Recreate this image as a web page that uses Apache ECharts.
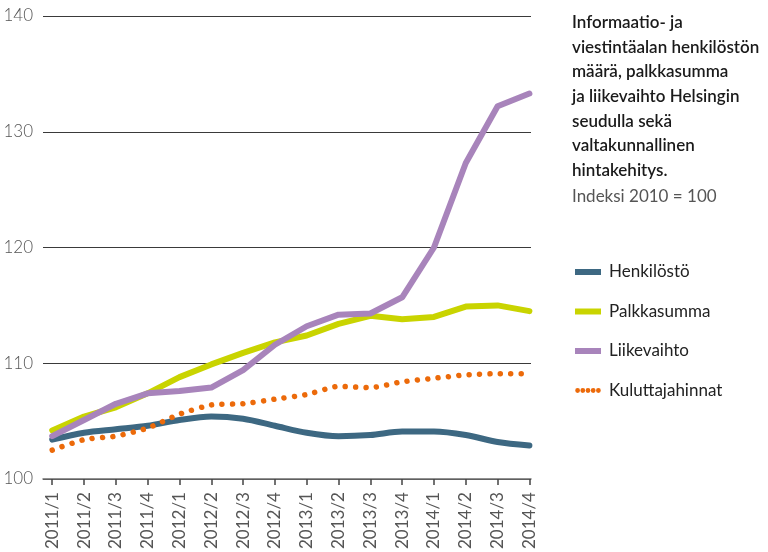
<!DOCTYPE html>
<html>
<head>
<meta charset="utf-8">
<script src="https://cdn.jsdelivr.net/npm/echarts@6/dist/echarts.min.js"></script>
<style>
  html, body { margin: 0; padding: 0; background: #fff; }
  #chart { width: 768px; height: 552px; }
</style>
</head>
<body>
<div id="chart"></div>
<script>
// Quarters 2011/1 – 2014/4
const quarters = ['2011/1','2011/2','2011/3','2011/4','2012/1','2012/2','2012/3','2012/4',
                  '2013/1','2013/2','2013/3','2013/4','2014/1','2014/2','2014/3','2014/4'];

// Index values, 2010 = 100
const henkilosto      = [103.4, 104.0, 104.3, 104.6, 105.1, 105.4, 105.2, 104.6, 104.0, 103.7, 103.8, 104.1, 104.1, 103.8, 103.2, 102.9];
const palkkasumma     = [104.2, 105.4, 106.2, 107.4, 108.8, 109.9, 110.9, 111.8, 112.4, 113.4, 114.1, 113.8, 114.0, 114.9, 115.0, 114.5];
const liikevaihto     = [103.7, 105.1, 106.5, 107.4, 107.6, 107.9, 109.4, 111.6, 113.2, 114.2, 114.3, 115.7, 120.0, 127.3, 132.2, 133.3];
const kuluttajahinnat = [102.5, 103.4, 103.7, 104.4, 105.6, 106.4, 106.5, 106.9, 107.3, 108.0, 107.9, 108.4, 108.7, 109.0, 109.1, 109.1];

const yTicks = [100, 110, 120, 130, 140];

const FONT = 'Lato, "Open Sans", sans-serif';
const idx = quarters.map((_, i) => i);
const pair = arr => arr.map((v, i) => [i, v]);

// Legend swatch for the dotted series: five round dots in a 26×6 box
const DOTS_ICON = 'path://' + [2.6, 7.8, 13, 18.2, 23.4]
  .map(cx => `M${cx - 2.4},3a2.4,2.4 0 1,0 4.8,0a2.4,2.4 0 1,0 -4.8,0Z`).join(' ')
  + ' M0,0 M26,6';

const chart = echarts.init(document.getElementById('chart'), null, { renderer: 'canvas' });

chart.setOption({
  animation: false,
  backgroundColor: '#ffffff',
  textStyle: { fontFamily: FONT },
  title: {
    left: 567,
    top: 5,
    text: 'Informaatio- ja\nviestintäalan henkilöstön\nmäärä, palkkasumma\nja liikevaihto Helsingin\nseudulla sekä\nvaltakunnallinen\nhintakehitys.',
    subtext: 'Indeksi 2010 = 100',
    itemGap: 2,
    textStyle: { fontFamily: FONT, fontSize: 17, fontWeight: 600, color: '#1a1a1a', lineHeight: 24.7 },
    subtextStyle: { fontFamily: FONT, fontSize: 17, fontWeight: 400, color: '#555555', lineHeight: 24 }
  },
  legend: {
    orient: 'vertical',
    left: 570,
    top: 257,
    itemWidth: 26,
    itemHeight: 6,
    itemGap: 19.5,
    textStyle: { fontFamily: FONT, fontSize: 17, color: '#222222', lineHeight: 20, padding: [0, 0, 0, 3] },
    data: [
      { name: 'Henkilöstö', icon: 'rect' },
      { name: 'Palkkasumma', icon: 'rect' },
      { name: 'Liikevaihto', icon: 'rect' },
      { name: 'Kuluttajahinnat', icon: DOTS_ICON }
    ]
  },
  grid: { left: 43, right: 237, top: 16, bottom: 72, containLabel: false },
  xAxis: {
    type: 'value',
    min: -0.29,
    max: 15.05,
    splitLine: { show: false },
    axisLine: { show: true, lineStyle: { color: '#6e6e6e', width: 1.5 } },
    axisTick: { show: true, customValues: idx, length: 6, lineStyle: { color: '#444', width: 1.5 } },
    axisLabel: {
      customValues: idx,
      rotate: 90,
      margin: 13,
      color: '#555555',
      fontFamily: FONT,
      fontSize: 17,
      formatter: v => quarters[Math.round(v)]
    }
  },
  yAxis: {
    type: 'value',
    min: yTicks[0],
    max: yTicks[yTicks.length - 1],
    interval: 10,
    axisLine: { show: false },
    axisTick: { show: false },
    splitLine: { show: true, lineStyle: { color: '#3a3a3a', width: 1 } },
    axisLabel: { margin: 10, color: '#555555', fontFamily: FONT, fontSize: 17, fontWeight: 300 }
  },
  series: [
    {
      name: 'Henkilöstö', type: 'line', data: pair(henkilosto),
      symbol: 'none', smooth: 0.3, color: '#3d6882',
      itemStyle: { color: '#3d6882' },
      lineStyle: { width: 6, color: '#3d6882', cap: 'round', join: 'round' }
    },
    {
      name: 'Palkkasumma', type: 'line', data: pair(palkkasumma),
      symbol: 'none', color: '#c9d400',
      itemStyle: { color: '#c9d400' },
      lineStyle: { width: 6, color: '#c9d400', cap: 'round', join: 'round' }
    },
    {
      name: 'Liikevaihto', type: 'line', data: pair(liikevaihto),
      symbol: 'none', color: '#a884bb',
      itemStyle: { color: '#a884bb' },
      lineStyle: { width: 6, color: '#a884bb', cap: 'round', join: 'round' }
    },
    {
      name: 'Kuluttajahinnat', type: 'line', data: pair(kuluttajahinnat),
      symbol: 'none', smooth: 0.2, color: '#ec6a0a',
      itemStyle: { color: '#ec6a0a' },
      lineStyle: { width: 5.5, color: '#ec6a0a', type: [0.01, 10.4], cap: 'round', join: 'round' }
    }
  ]
});
</script>
</body>
</html>
